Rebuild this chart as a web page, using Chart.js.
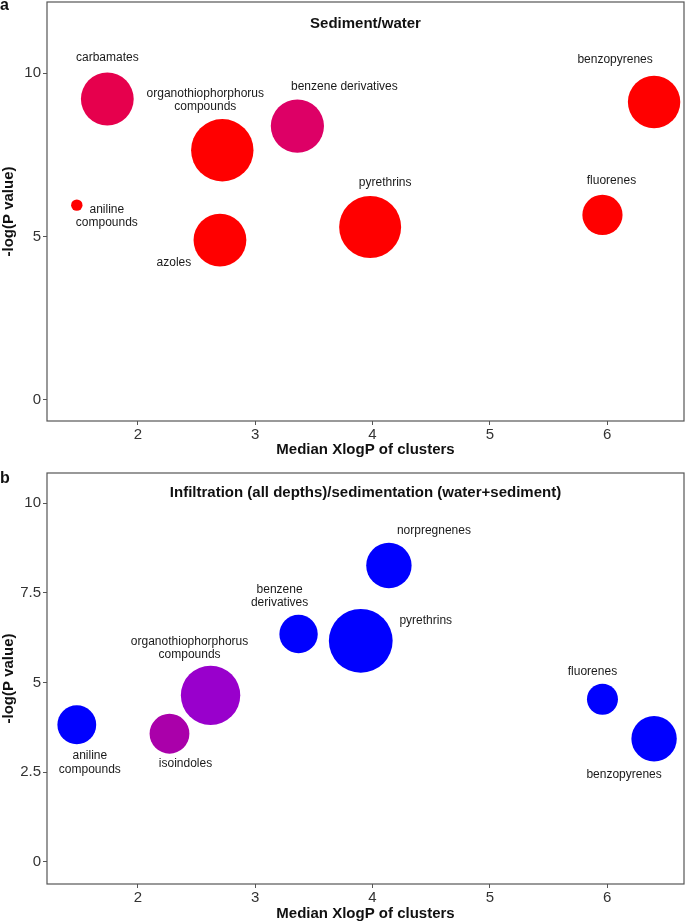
<!DOCTYPE html>
<html>
<head>
<meta charset="utf-8">
<script src="https://cdn.jsdelivr.net/npm/chart.js@4"></script>
<style>
  body { margin: 0; background: #fff; }
  .panel { position: absolute; left: 0; }
</style>
</head>
<body>
<canvas id="chartA" class="panel" width="685" height="460" style="top:0"></canvas>
<canvas id="chartB" class="panel" width="685" height="461" style="top:460px"></canvas>
<script>
// x axis shared by both panels
const xTicks = [2, 3, 4, 5, 6];

// panel a: Sediment/water
const aNames = ['carbamates', 'organothiophorphorus\ncompounds', 'benzene derivatives', 'benzopyrenes',
  'aniline\ncompounds', 'azoles', 'pyrethrins', 'fluorenes'];
const aXlogP = [1.74, 2.72, 3.36, 6.40, 1.48, 2.70, 3.98, 5.96];
const aLogP = [9.21, 7.64, 8.38, 9.12, 5.96, 4.89, 5.29, 5.66];
const aSize = [26.4, 31.2, 26.6, 26.2, 5.7, 26.4, 31, 20.1];
const aColors = ['#E6004D', '#FF0000', '#DD0066', '#FF0000', '#FF0000', '#FF0000', '#FF0000', '#FF0000'];
const aYTicks = [0, 5, 10];

// panel b: Infiltration/sedimentation
const bNames = ['aniline\ncompounds', 'isoindoles', 'organothiophorphorus\ncompounds', 'benzene\nderivatives',
  'pyrethrins', 'norpregnenes', 'fluorenes', 'benzopyrenes'];
const bXlogP = [1.48, 2.27, 2.62, 3.37, 3.90, 4.14, 5.96, 6.40];
const bLogP = [3.82, 3.57, 4.64, 6.35, 6.16, 8.26, 4.53, 3.43];
const bSize = [19.4, 19.9, 29.7, 19.2, 31.9, 22.7, 15.5, 22.7];
const bColors = ['#0000FF', '#AA00AA', '#9900CC', '#0000FF', '#0000FF', '#0000FF', '#0000FF', '#0000FF'];
const bYTicks = [0, 2.5, 5, 7.5, 10];

// label placement relative to bubble centre (px)
const aLabelOffsets = [[0, -41], [-17, -50], [47, -39], [-39, -42], [30, 11], [-46, 23], [15, -44], [9, -34]];
const bLabelOffsets = [[13, 38], [16, 30], [-21, -47], [-19, -38], [65, -20], [45, -35], [-10, -28], [-30, 36]];

const FONT = '"Liberation Sans", Arial, sans-serif';

// draws the panel box, title, letter and bubble labels
const decorPlugin = {
  id: 'decor',
  afterDraw(chart, args, opts) {
    const ctx = chart.ctx;
    const area = chart.chartArea;
    const meta = chart.getDatasetMeta(0);
    ctx.save();
    ctx.strokeStyle = '#555';
    ctx.lineWidth = 1.2;
    ctx.strokeRect(area.left, area.top, area.right - area.left, area.bottom - area.top);

    ctx.fillStyle = '#111';
    ctx.textAlign = 'center';
    ctx.textBaseline = 'middle';
    ctx.font = 'bold 15px ' + FONT;
    ctx.fillText(opts.title, (area.left + area.right) / 2, area.top + opts.titleGap);

    ctx.textAlign = 'left';
    ctx.textBaseline = 'alphabetic';
    ctx.font = 'bold 16px ' + FONT;
    ctx.fillText(opts.letter, 0, opts.letterY);

    ctx.textAlign = 'center';
    ctx.textBaseline = 'middle';
    ctx.font = '12px ' + FONT;
    ctx.fillStyle = '#1a1a1a';
    meta.data.forEach((pt, i) => {
      const lines = opts.names[i].split('\n');
      const [dx, dy] = opts.offsets[i];
      const y0 = pt.y + dy - (lines.length - 1) * 13.6 / 2;
      lines.forEach((line, j) => ctx.fillText(line, pt.x + dx, y0 + j * 13.6));
    });
    ctx.restore();
  }
};

function makeChart(id, xs, ys, rs, colors, yTicks, yMin, yMax, padTop, xHeight, titlePadBottom, decor) {
  return new Chart(document.getElementById(id), {
    type: 'bubble',
    data: {
      datasets: [{
        data: xs.map((x, i) => ({ x: x, y: ys[i], r: rs[i] })),
        backgroundColor: colors,
        borderWidth: 0,
        clip: false
      }]
    },
    options: {
      responsive: false,
      animation: false,
      layout: { autoPadding: false, padding: { top: padTop, right: 1, left: 0, bottom: 0 } },
      plugins: { legend: { display: false }, tooltip: { enabled: false }, decor: decor },
      scales: {
        x: {
          type: 'linear',
          min: 1.226,
          max: 6.655,
          afterBuildTicks: s => { s.ticks = xTicks.map(v => ({ value: v })); },
          afterFit: s => { s.height = xHeight; s.paddingLeft = 0; s.paddingRight = 0; },
          grid: { drawOnChartArea: false, drawTicks: true, tickLength: 4, color: '#555' },
          border: { display: false },
          ticks: { color: '#333', font: { size: 15, family: FONT }, padding: 1, maxRotation: 0 },
          title: {
            display: true, text: 'Median XlogP of clusters', color: '#111',
            font: { size: 15, weight: 'bold', family: FONT, lineHeight: 1 },
            padding: { top: 0, bottom: titlePadBottom }
          }
        },
        y: {
          type: 'linear',
          min: yMin,
          max: yMax,
          afterBuildTicks: s => { s.ticks = yTicks.map(v => ({ value: v })); },
          afterFit: s => { s.width = 47; s.paddingTop = 0; s.paddingBottom = 0; },
          grid: { drawOnChartArea: false, drawTicks: true, tickLength: 4, color: '#555' },
          border: { display: false },
          ticks: { color: '#333', font: { size: 15, family: FONT }, padding: 2 },
          title: {
            display: true, text: '-log(P value)', color: '#111',
            font: { size: 15, weight: 'bold', family: FONT }, padding: 0
          }
        }
      }
    },
    plugins: [decorPlugin]
  });
}

makeChart('chartA', aXlogP, aLogP, aSize, aColors, aYTicks, -0.65, 12.18, 2, 39, 2.5,
  { title: 'Sediment/water', titleGap: 22, letter: 'a', letterY: 10, names: aNames, offsets: aLabelOffsets });
makeChart('chartB', bXlogP, bLogP, bSize, bColors, bYTicks, -0.62, 10.84, 13, 37, 0,
  { title: 'Infiltration (all depths)/sedimentation (water+sediment)', titleGap: 20, letter: 'b', letterY: 23,
    names: bNames, offsets: bLabelOffsets });
</script>
</body>
</html>
